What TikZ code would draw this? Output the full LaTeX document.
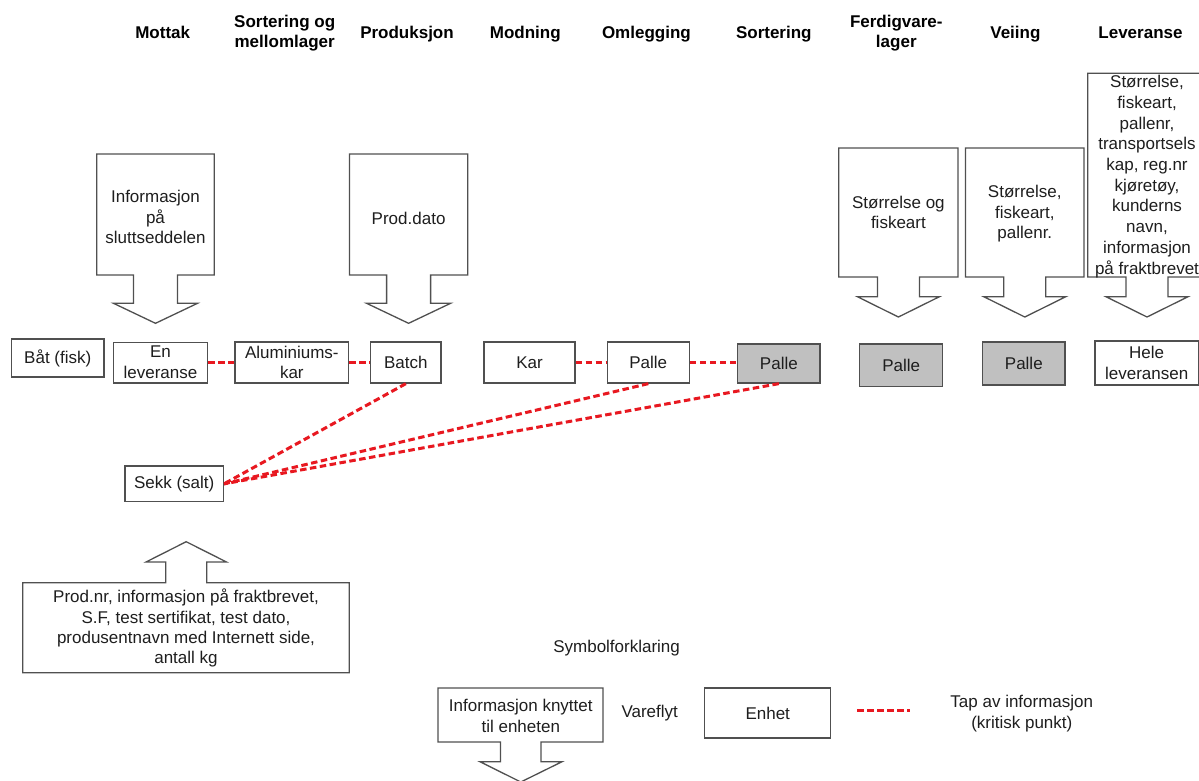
\documentclass[tikz,border=0pt]{standalone}
\usepackage{fontspec}
\setmainfont{Liberation Sans}
\definecolor{edgegrey}{RGB}{80,80,80}
\definecolor{txtcol}{RGB}{30,30,30}
\definecolor{lossred}{RGB}{232,24,32}
\definecolor{unitgrey}{RGB}{192,192,192}
\newcommand{\diagbody}{\fontsize{17}{20.6}\selectfont}
\newcommand{\diaghead}{\fontsize{17}{20}\selectfont\bfseries}
\begin{document}
\begin{tikzpicture}[x=1pt,y=-1pt,
  unitbox/.style={draw=edgegrey, line width=1.3pt, fill=white, inner sep=0pt, align=center, font=\diagbody, text=txtcol},
  greyunit/.style={unitbox, fill=unitgrey},
  loss/.style={draw=lossred, line width=3pt, dash pattern=on 6.5pt off 3.5pt},
  callout/.style={draw=edgegrey, line width=1.3pt, fill=white, line join=miter},
  headlbl/.style={font=\diaghead, align=center, text=black, inner sep=0pt, anchor=base},
  bodylbl/.style={font=\diagbody, align=center, text=txtcol, inner sep=0pt, anchor=base}]
\useasboundingbox (0,0) rectangle (1199,780);
\fill[white] (0,0) rectangle (1199,780);

% headers (base anchor = baseline of the last line)
\node[headlbl] (h1) at (162.7,38) {Mottak};
\node[headlbl] (h2) at (284.7,47.5) {Sortering og\\mellomlager};
\node[headlbl] (h3) at (407,38) {Produksjon};
\node[headlbl] (h4) at (525.3,38) {Modning};
\node[headlbl] (h5) at (646.4,38) {Omlegging};
\node[headlbl] (h6) at (773.8,38) {Sortering};
\node[headlbl] (h7) at (896.3,47.5) {Ferdigvare-\\lager};
\node[headlbl] (h8) at (1015.4,38.5) {Veiing};
\node[headlbl] (h9) at (1140.5,38.5) {Leveranse};

% down callouts
\draw[callout] (96.8,154) -- (214.3,154) -- (214.3,275) -- (177.5,275) -- (177.5,303.3) -- (197.5,303.3) -- (155.5,323.3) -- (113.5,303.3) -- (133.5,303.3) -- (133.5,275) -- (96.8,275) -- cycle;
\node[bodylbl] (c1) at (155.5,243.9) {Informasjon\\på\\sluttseddelen};

\draw[callout] (349.4,154) -- (467.7,154) -- (467.7,275) -- (430.6,275) -- (430.6,303.3) -- (450.6,303.3) -- (408.6,323.3) -- (366.6,303.3) -- (386.6,303.3) -- (386.6,275) -- (349.4,275) -- cycle;
\node[bodylbl] (c2) at (408.6,224) {Prod.dato};

\draw[callout] (838.7,148) -- (958,148) -- (958,277) -- (919.4,277) -- (919.4,296.7) -- (939.4,296.7) -- (898.4,317) -- (857.4,296.7) -- (877.4,296.7) -- (877.4,277) -- (838.7,277) -- cycle;
\node[bodylbl] (c3) at (898.4,228.9) {Størrelse og\\fiskeart};

\draw[callout] (965.5,148) -- (1084,148) -- (1084,277) -- (1045.8,277) -- (1045.8,296.7) -- (1065.8,296.7) -- (1024.8,317) -- (983.8,296.7) -- (1003.8,296.7) -- (1003.8,277) -- (965.5,277) -- cycle;
\node[bodylbl] (c4) at (1024.8,238.9) {Størrelse,\\fiskeart,\\pallenr.};

\draw[callout] (1087.7,73.3) -- (1206,73.3) -- (1206,277) -- (1168,277) -- (1168,296.7) -- (1188,296.7) -- (1147,317) -- (1106,296.7) -- (1126,296.7) -- (1126,277) -- (1087.7,277) -- cycle;
\node[bodylbl, font=\fontsize{17}{20.7}\selectfont] (c5) at (1147,274) {Størrelse,\\fiskeart,\\pallenr,\\transportsels\\kap, reg.nr\\kjøretøy,\\kunderns\\navn,\\informasjon\\på fraktbrevet};

% up callout
\draw[callout] (22.7,582.7) -- (165.7,582.7) -- (165.7,562) -- (146,562) -- (186.2,541.7) -- (226.5,562) -- (206.7,562) -- (206.7,582.7) -- (349.3,582.7) -- (349.3,672.7) -- (22.7,672.7) -- cycle;
\node[bodylbl, font=\fontsize{17}{20.4}\selectfont] (c6) at (186,663.9) {Prod.nr, informasjon på fraktbrevet,\\S.F, test sertifikat, test dato,\\produsentnavn med Internett side,\\antall kg};

% units
\node[unitbox, minimum width=92.5pt, minimum height=38pt] (bat) at (57.75,358) {Båt (fisk)};
\node[unitbox, minimum width=94.4pt, minimum height=40.7pt] (lev) at (160.5,362.5) {En\\leveranse};
\node[unitbox, minimum width=113.7pt, minimum height=41pt] (alu) at (291.85,362.5) {Aluminiums-\\kar};
\node[unitbox, minimum width=70.3pt, minimum height=41pt] (batch) at (405.85,362.5) {Batch};
\node[unitbox, minimum width=91pt, minimum height=41pt] (kar) at (529.5,362.5) {Kar};
\node[unitbox, minimum width=82pt, minimum height=41pt] (palleA) at (648.3,362.5) {Palle};
\node[greyunit, minimum width=82.3pt, minimum height=39pt] (palleB) at (778.85,363.5) {Palle};
\node[greyunit, minimum width=82.9pt, minimum height=42.7pt] (palleC) at (901.15,365.3) {Palle};
\node[greyunit, minimum width=82.2pt, minimum height=43pt] (palleD) at (1023.8,363.5) {Palle};
\node[unitbox, minimum width=103.3pt, minimum height=44pt] (hele) at (1146.65,363) {Hele\\leveransen};
\node[unitbox, minimum width=98.3pt, minimum height=35.7pt] (sekk) at (174.15,483.85) {Sekk (salt)};

% loss of information
\draw[loss] (lev.east) -- (alu.west);
\draw[loss] (alu.east) -- (batch.west);
\draw[loss] (kar.east) -- (palleA.west);
\draw[loss] (palleA.east) -- (palleA.east -| palleB.west);
\draw[loss] (batch.south) -- (sekk.east);
\draw[loss] (palleA.south) -- (sekk.east);
\draw[loss] (palleB.south) -- (sekk.east);

% legend
\node[bodylbl] (legtitle) at (616.6,652.7) {Symbolforklaring};
\draw[callout] (438,688) -- (603,688) -- (603,742) -- (541,742) -- (541,761.7) -- (562,761.7) -- (520.8,782) -- (480,761.7) -- (500.4,761.7) -- (500.4,742) -- (438,742) -- cycle;
\node[bodylbl, font=\fontsize{17}{21}\selectfont] (leginfo) at (520.8,732) {Informasjon knyttet\\til enheten};
\node[bodylbl] (legflow) at (649.7,717.7) {Vareflyt};
\node[unitbox, minimum width=125.9pt, minimum height=50pt] (legunit) at (767.75,713) {Enhet};
\coordinate (lossA) at (857,710);
\coordinate (lossB) at (910,710);
\draw[loss] (lossA) -- (lossB);
\node[bodylbl] (legloss) at (1021.8,728.3) {Tap av informasjon\\(kritisk punkt)};
\end{tikzpicture}
\end{document}
